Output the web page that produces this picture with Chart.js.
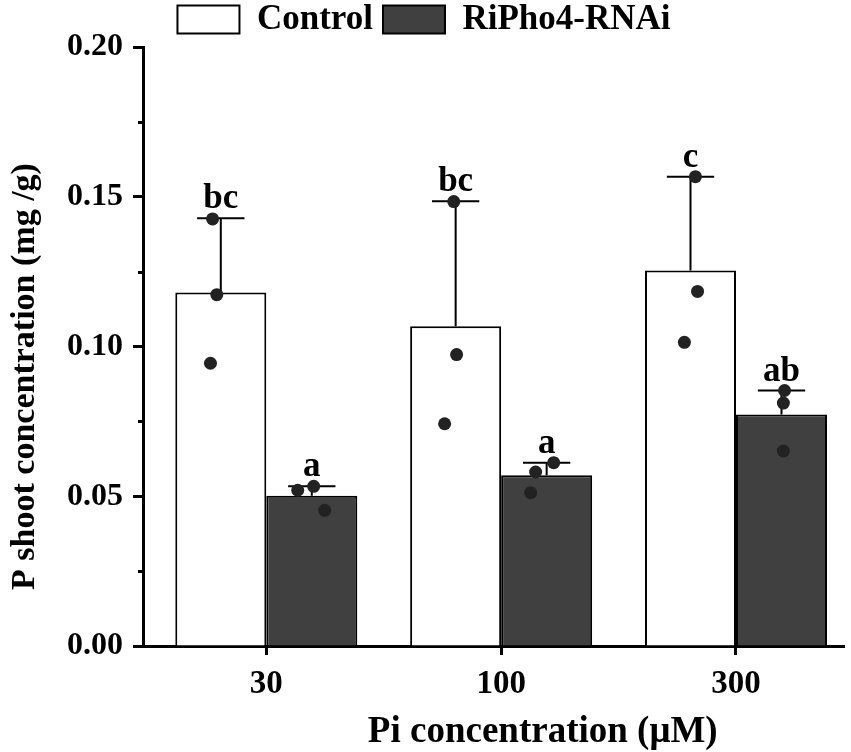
<!DOCTYPE html>
<html>
<head>
<meta charset="utf-8">
<script src="https://cdn.jsdelivr.net/npm/chart.js@4.4.0/dist/chart.umd.min.js"></script>
<style>
  html, body { margin: 0; padding: 0; background: #fff; overflow: hidden; }
  #wrap { width: 851px; height: 752px; position: relative; }
</style>
</head>
<body>
<div id="wrap"><canvas id="chart"></canvas></div>
<script>
// Pi concentration categories (µM)
const categories = ['30', '100', '300'];

// bar heights (means)
const controlMean = [0.1180, 0.1068, 0.1254];
const rnaiMean = [0.0502, 0.0570, 0.0773];

// top of the error bars
const controlErrTop = [0.1428, 0.1485, 0.1567];
const rnaiErrTop = [0.0533, 0.0612, 0.0853];

// individual replicates
const controlPoints = [[0.1426, 0.1173, 0.0944], [0.1484, 0.0973, 0.0742], [0.1567, 0.1184, 0.1014]];
const rnaiPoints = [[0.0520, 0.0533, 0.0453], [0.0581, 0.0612, 0.0512], [0.0853, 0.0811, 0.0651]];

// horizontal scatter of the replicates inside each bar (x units)
const controlJitter = [[-0.035, -0.017, -0.044], [-0.008, 0.004, -0.047], [0.021, 0.030, -0.026]];
const rnaiJitter = [[-0.060, 0.008, 0.055], [-0.047, 0.030, -0.068], [0.013, 0.008, 0.008]];

// significance letters
const controlLetters = ['bc', 'bc', 'c'];
const rnaiLetters = ['a', 'a', 'ab'];

const FONT = "'Liberation Serif', 'Times New Roman', serif";
const CAT_PCT = 0.775;

function barData(values) {
    return values.map((v, i) => ({ x: i + 1, y: v }));
}

function pointData(points, jitter, side) {
    const out = [];
    points.forEach((reps, i) => {
        reps.forEach((v, k) => {
            out.push({ x: i + 1 + side * CAT_PCT / 4 + jitter[i][k], y: v });
        });
    });
    return out;
}

// error bars + letters, drawn right after each bar dataset
const errorBarPlugin = {
    id: 'errorBars',
    afterDatasetDraw(chart, args) {
        const ds = chart.data.datasets[args.index];
        if (!ds.errTop) return;
        const ctx = chart.ctx;
        const yScale = chart.scales.y;
        const meta = chart.getDatasetMeta(args.index);
        ctx.save();
        ctx.strokeStyle = '#000';
        ctx.lineWidth = 2;
        ctx.fillStyle = '#000';
        ctx.font = 'bold 35px ' + FONT;
        ctx.textAlign = 'center';
        ctx.textBaseline = 'alphabetic';
        meta.data.forEach((bar, i) => {
            const yTop = yScale.getPixelForValue(ds.errTop[i]);
            const half = bar.width * 0.26;
            ctx.beginPath();
            ctx.moveTo(bar.x, bar.y);
            ctx.lineTo(bar.x, yTop);
            ctx.moveTo(bar.x - half, yTop);
            ctx.lineTo(bar.x + half, yTop);
            ctx.stroke();
            ctx.fillText(ds.letters[i], bar.x, yTop - 10);
        });
        ctx.restore();
    }
};

// minor ticks on the y axis and both axis titles
const axisExtras = {
    id: 'axisExtras',
    afterDraw(chart) {
        const ctx = chart.ctx;
        const y = chart.scales.y;
        const area = chart.chartArea;
        ctx.save();
        ctx.strokeStyle = '#000';
        ctx.lineWidth = 3;
        [0.025, 0.075, 0.125, 0.175].forEach(v => {
            const py = Math.round(y.getPixelForValue(v)) + 0.5;
            ctx.beginPath();
            ctx.moveTo(area.left - 5, py);
            ctx.lineTo(area.left, py);
            ctx.stroke();
        });
        ctx.fillStyle = '#000';
        ctx.textAlign = 'center';
        ctx.textBaseline = 'alphabetic';
        ctx.font = 'bold 37px ' + FONT;
        ctx.fillText('Pi concentration (\u03bcM)', (area.left + area.right) / 2 + 49, 742);
        ctx.translate(34, (area.top + area.bottom) / 2 + 30);
        ctx.rotate(-Math.PI / 2);
        ctx.font = 'bold 34px ' + FONT;
        ctx.fillText('P shoot concentration (mg /g)', 0, 0);
        ctx.restore();
    }
};

const ctx = document.getElementById('chart').getContext('2d');
new Chart(ctx, {
    type: 'bar',
    data: {
        datasets: [
            {
                label: 'Control',
                data: barData(controlMean),
                backgroundColor: '#ffffff',
                borderColor: '#000000',
                borderWidth: 2,
                errTop: controlErrTop,
                letters: controlLetters,
                order: 1
            },
            {
                label: 'RiPho4-RNAi',
                data: barData(rnaiMean),
                backgroundColor: '#404040',
                borderColor: '#000000',
                borderWidth: 2,
                errTop: rnaiErrTop,
                letters: rnaiLetters,
                order: 1
            },
            {
                type: 'scatter',
                label: 'control-points',
                data: pointData(controlPoints, controlJitter, -1),
                backgroundColor: '#222222',
                borderWidth: 0,
                pointRadius: 6.5,
                order: 0
            },
            {
                type: 'scatter',
                label: 'rnai-points',
                data: pointData(rnaiPoints, rnaiJitter, 1),
                backgroundColor: '#222222',
                borderWidth: 0,
                pointRadius: 6.5,
                order: 0
            }
        ]
    },
    options: {
        responsive: true,
        maintainAspectRatio: false,
        animation: false,
        categoryPercentage: CAT_PCT,
        barPercentage: 1.0,
        layout: { padding: { top: -8, right: 3, bottom: 0, left: 0 } },
        scales: {
            x: {
                type: 'linear',
                min: 0.475,
                max: 3.462,
                offset: false,
                afterBuildTicks: scale => {
                    scale.ticks = categories.map((c, i) => ({ value: i + 1 }));
                },
                afterFit: scale => { scale.height = 106; },
                ticks: {
                    callback: value => categories[Math.round(value) - 1],
                    color: '#000',
                    font: { family: FONT, size: 33, weight: 'bold' },
                    padding: 10,
                    maxRotation: 0
                },
                grid: {
                    offset: false,
                    drawOnChartArea: false,
                    drawTicks: true,
                    tickLength: 9,
                    tickWidth: 3,
                    tickColor: '#000'
                },
                border: { color: '#000', width: 3 }
            },
            y: {
                min: 0,
                max: 0.2,
                afterFit: scale => { scale.width = 143; },
                ticks: {
                    stepSize: 0.05,
                    callback: value => value.toFixed(2),
                    color: '#000',
                    font: { family: FONT, size: 32, weight: 'bold' },
                    padding: 10
                },
                grid: {
                    drawOnChartArea: false,
                    drawTicks: true,
                    tickLength: 10,
                    tickWidth: 3,
                    tickColor: '#000'
                },
                border: { color: '#000', width: 3 }
            }
        },
        plugins: {
            legend: {
                position: 'top',
                labels: {
                    filter: item => item.datasetIndex < 2,
                    boxWidth: 62,
                    boxHeight: 28,
                    padding: 10,
                    color: '#000',
                    font: { family: FONT, size: 35, weight: 'bold' }
                }
            },
            tooltip: { enabled: false }
        }
    },
    plugins: [errorBarPlugin, axisExtras]
});
</script>
</body>
</html>
